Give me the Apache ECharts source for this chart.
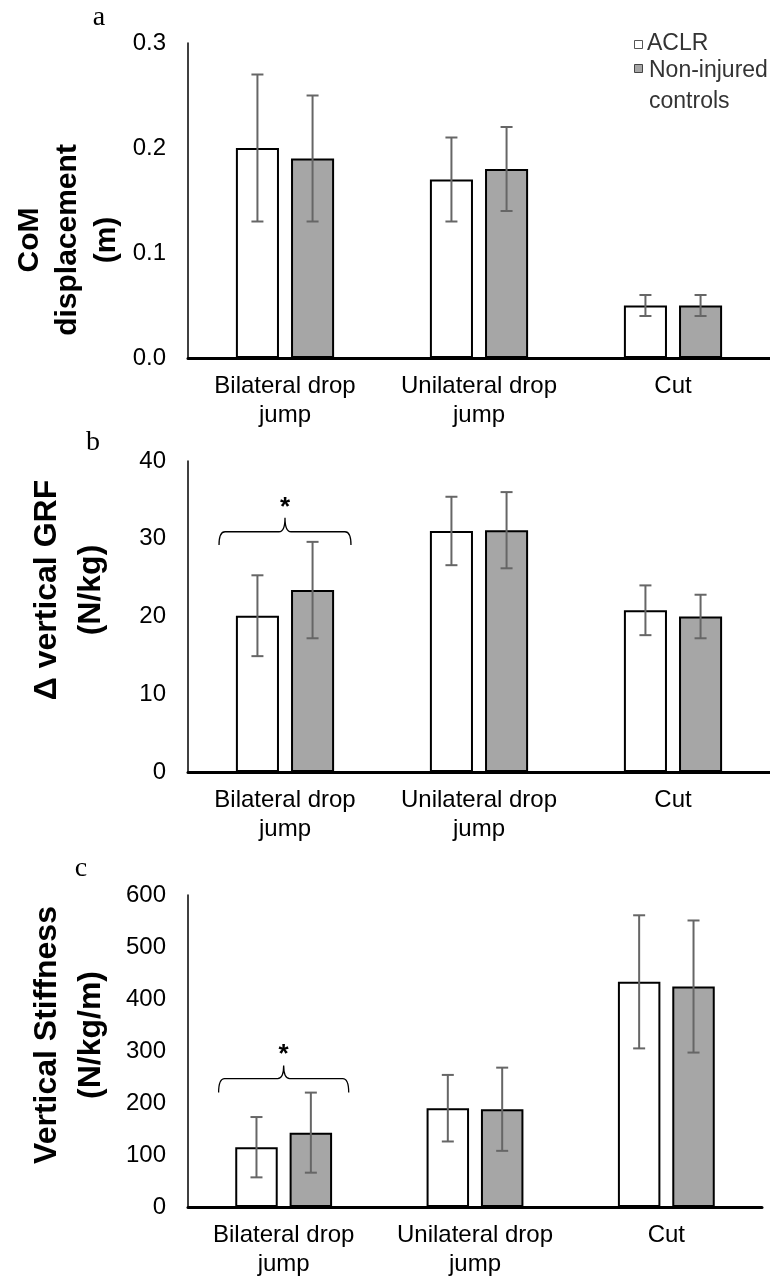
<!DOCTYPE html>
<html>
<head>
<meta charset="utf-8">
<script src="https://cdn.jsdelivr.net/npm/echarts@6/dist/echarts.min.js"></script>
<style>
  html, body { margin: 0; padding: 0; background: #fff; }
  #chart { width: 770px; height: 1280px; }
</style>
</head>
<body>
<div id="chart"></div>
<script>
// ---- data ----
const categories = ['Bilateral drop\njump', 'Unilateral drop\njump', 'Cut'];
const seriesNames = ['ACLR', 'Non-injured controls'];

// a: CoM displacement (m)
const comAclr = [0.20, 0.17, 0.05];
const comAclrSd = [0.07, 0.04, 0.01];
const comCtrl = [0.19, 0.18, 0.05];
const comCtrlSd = [0.06, 0.04, 0.01];

// b: delta vertical GRF (N/kg)
const grfAclr = [20.1, 31.0, 20.8];
const grfAclrSd = [5.2, 4.4, 3.2];
const grfCtrl = [23.4, 31.1, 20.0];
const grfCtrlSd = [6.2, 4.9, 2.8];

// c: vertical stiffness (N/kg/m)
const kAclr = [115, 190, 433];
const kAclrSd = [58, 64, 128];
const kCtrl = [143, 188, 424];
const kCtrlSd = [77, 80, 127];

// axis ranges
const axisA = { min: 0, max: 0.3, interval: 0.1 };
const axisB = { min: 0, max: 40, interval: 10 };
const axisC = { min: 0, max: 600, interval: 100 };

// significance brackets: [category, endY, lineY, peakY, starY]
const bracketB = [0, 29.2, 30.9, 32.7, 34.6];
const bracketC = [0, 220, 247, 272, 302];

// ---- styling ----
const FONT = "'Liberation Sans', Arial, Helvetica, sans-serif";
const SERIF = "'Liberation Serif', 'Times New Roman', serif";
const BAR_W = 0.222;  // fraction of band
const BAR_GAP = 0.28; // fraction of bar width
const ERR_COLOR = '#666666';

const grids = [
  { left: 188, top: 43, height: 315, width: 582 },
  { left: 188, top: 461, height: 311, width: 588 },
  { left: 188, top: 895, height: 312, width: 574 }
];

function xAxisFor(i) {
  return {
    type: 'category', gridIndex: i, data: categories,
    axisTick: { show: false },
    axisLine: { lineStyle: { color: '#000', width: 3 } },
    axisLabel: { color: '#000', fontFamily: FONT, fontSize: 24, lineHeight: 29, margin: 14, interval: 0 }
  };
}
function yAxisFor(i, ax, fmt) {
  return {
    type: 'value', gridIndex: i, min: ax.min, max: ax.max, interval: ax.interval,
    splitLine: { show: false },
    axisTick: { show: false },
    axisLine: { show: true, onZero: false, lineStyle: { color: '#000', width: 1.5 } },
    axisLabel: { color: '#000', fontFamily: FONT, fontSize: 24, margin: 22, formatter: fmt }
  };
}

function barSeries(i, name, data, fill) {
  return {
    type: 'bar', name: name, xAxisIndex: i, yAxisIndex: i, data: data,
    barWidth: (BAR_W * 100) + '%', barGap: (BAR_GAP * 100) + '%',
    itemStyle: { color: fill, borderColor: '#000', borderWidth: 2 },
    z: 2, silent: true
  };
}

function errSeries(i, means, sds, sign) {
  return {
    type: 'custom', xAxisIndex: i, yAxisIndex: i, z: 5, silent: true,
    data: means.map((m, k) => [k, m - sds[k], m + sds[k]]),
    encode: { x: 0, y: [1, 2] },
    renderItem: function (params, api) {
      const cat = api.value(0);
      const lo = api.coord([cat, api.value(1)]);
      const hi = api.coord([cat, api.value(2)]);
      const catW = api.size([1, 0])[0];
      const bw = catW * BAR_W;
      const x = lo[0] + sign * (bw + bw * BAR_GAP) / 2;
      const cap = 6;
      const st = { stroke: ERR_COLOR, lineWidth: 2 };
      return {
        type: 'group',
        children: [
          { type: 'line', shape: { x1: x, y1: hi[1], x2: x, y2: lo[1] }, style: st },
          { type: 'line', shape: { x1: x - cap, y1: hi[1], x2: x + cap, y2: hi[1] }, style: st },
          { type: 'line', shape: { x1: x - cap, y1: lo[1], x2: x + cap, y2: lo[1] }, style: st }
        ]
      };
    }
  };
}

function bracketSeries(i, br) {
  return {
    type: 'custom', xAxisIndex: i, yAxisIndex: i, z: 6, silent: true,
    data: [br],
    encode: { x: 0, y: [1, 2, 3, 4] },
    renderItem: function (params, api) {
      const cat = api.value(0);
      const pEnd = api.coord([cat, api.value(1)]);
      const pLine = api.coord([cat, api.value(2)]);
      const pPeak = api.coord([cat, api.value(3)]);
      const pStar = api.coord([cat, api.value(4)]);
      const catW = api.size([1, 0])[0];
      const half = catW * 0.34;
      const xm = pLine[0], x0 = xm - half, x1 = xm + half;
      const yE = pEnd[1], yL = pLine[1], yP = pPeak[1];
      const r = 6;
      const d = 'M' + x0 + ',' + yE +
        ' Q' + x0 + ',' + yL + ' ' + (x0 + r) + ',' + yL +
        ' L' + (xm - r) + ',' + yL +
        ' Q' + xm + ',' + yL + ' ' + xm + ',' + yP +
        ' Q' + xm + ',' + yL + ' ' + (xm + r) + ',' + yL +
        ' L' + (x1 - r) + ',' + yL +
        ' Q' + x1 + ',' + yL + ' ' + x1 + ',' + yE;
      return {
        type: 'group',
        children: [
          { type: 'path', shape: { pathData: d }, style: { stroke: '#000', lineWidth: 1.3, fill: null } },
          { type: 'text', x: xm, y: pStar[1] + 5,
            style: { text: '*', font: 'bold 26px ' + FONT, fill: '#000',
                     align: 'center', verticalAlign: 'middle', textAlign: 'center', textVerticalAlign: 'middle' } }
        ]
      };
    }
  };
}

function rotTitle(text, x, y, size, lh) {
  return {
    type: 'text', x: x, y: y, rotation: Math.PI / 2,
    style: { text: text, font: 'bold ' + size + 'px ' + FONT, fill: '#000', lineHeight: lh,
             align: 'center', verticalAlign: 'middle', textAlign: 'center', textVerticalAlign: 'middle' }
  };
}
function letter(text, x, y) {
  return {
    type: 'text', x: x, y: y,
    style: { text: text, font: '28px ' + SERIF, fill: '#000',
             align: 'center', verticalAlign: 'middle', textAlign: 'center', textVerticalAlign: 'middle' }
  };
}

const option = {
  backgroundColor: '#fff',
  animation: false,
  grid: grids,
  xAxis: [xAxisFor(0), xAxisFor(1), xAxisFor(2)],
  yAxis: [
    yAxisFor(0, axisA, v => v.toFixed(1)),
    yAxisFor(1, axisB, v => String(v)),
    yAxisFor(2, axisC, v => String(v))
  ],
  series: [
    barSeries(0, seriesNames[0], comAclr, '#ffffff'),
    barSeries(0, seriesNames[1], comCtrl, '#a6a6a6'),
    errSeries(0, comAclr, comAclrSd, -1),
    errSeries(0, comCtrl, comCtrlSd, 1),

    barSeries(1, seriesNames[0], grfAclr, '#ffffff'),
    barSeries(1, seriesNames[1], grfCtrl, '#a6a6a6'),
    errSeries(1, grfAclr, grfAclrSd, -1),
    errSeries(1, grfCtrl, grfCtrlSd, 1),
    bracketSeries(1, bracketB),

    barSeries(2, seriesNames[0], kAclr, '#ffffff'),
    barSeries(2, seriesNames[1], kCtrl, '#a6a6a6'),
    errSeries(2, kAclr, kAclrSd, -1),
    errSeries(2, kCtrl, kCtrlSd, 1),
    bracketSeries(2, bracketC)
  ],
  graphic: [
    letter('a', 99, 17.5),
    letter('b', 93, 442.5),
    letter('c', 81, 868.5),
    rotTitle('CoM\ndisplacement\n(m)', 68, 240, 30, 38.5),
    rotTitle('\u0394 vertical GRF\n(N/kg)', 69, 590, 32, 44),
    rotTitle('Vertical Stiffness\n(N/kg/m)', 69, 1035, 32, 44),
    // legend
    { type: 'rect', shape: { x: 634.5, y: 40.5, width: 8, height: 8 }, style: { fill: '#fff', stroke: '#555', lineWidth: 1 } },
    { type: 'text', x: 647, y: 44, style: { text: seriesNames[0], font: '23px ' + FONT, fill: '#333',
        align: 'left', verticalAlign: 'middle', textAlign: 'left', textVerticalAlign: 'middle' } },
    { type: 'rect', shape: { x: 634.5, y: 64.5, width: 8, height: 8 }, style: { fill: '#a6a6a6', stroke: '#444', lineWidth: 1 } },
    { type: 'text', x: 649, y: 55, style: { text: 'Non-injured\ncontrols', font: '23px ' + FONT, fill: '#333', lineHeight: 31,
        align: 'left', verticalAlign: 'top', textAlign: 'left', textVerticalAlign: 'top' } }
  ]
};

const chart = echarts.init(document.getElementById('chart'), null, { renderer: 'canvas', width: 770, height: 1280 });
chart.setOption(option);
</script>
</body>
</html>
